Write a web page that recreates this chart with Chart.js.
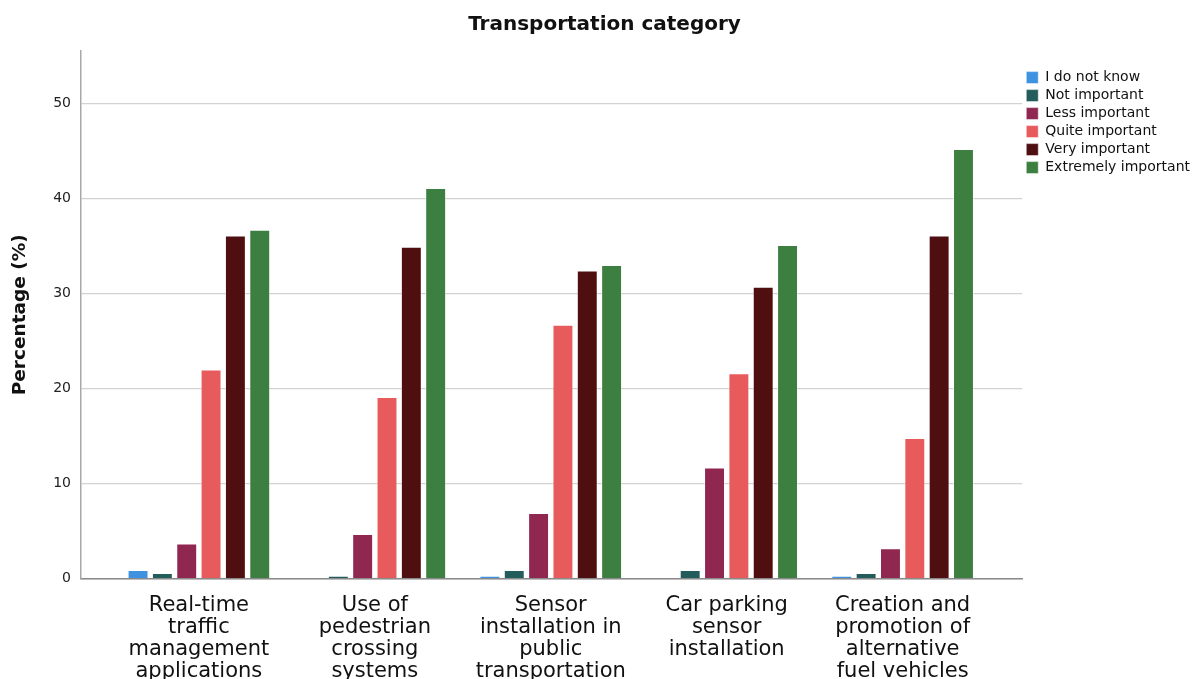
<!DOCTYPE html>
<html>
<head>
<meta charset="utf-8">
<script src="https://cdn.jsdelivr.net/npm/chart.js@4.4.1/dist/chart.umd.min.js"></script>
<style>
  html, body { margin: 0; padding: 0; background: #fff; overflow: hidden; }
  #wrap { width: 1203px; height: 702px; }
</style>
</head>
<body>
<div id="wrap"><canvas id="chart" width="1203" height="702"></canvas></div>
<script>
// categories (multi-line labels as in the picture)
const categories = [
    ["Real-time", "traffic", "management", "applications"],
    ["Use of", "pedestrian", "crossing", "systems"],
    ["Sensor", "installation in", "public", "transportation"],
    ["Car parking", "sensor", "installation"],
    ["Creation and", "promotion of", "alternative", "fuel vehicles"]
];

const seriesNames = ["I do not know", "Not important", "Less important", "Quite important", "Very important", "Extremely important"];
const seriesColors = ["#3f92e0", "#235c5b", "#8f2751", "#e85b5c", "#4f0e10", "#3d7f41"];

// percentages per category
const iDoNotKnow   = [0.9, 0.0, 0.3, 0.0, 0.3];
const notImportant = [0.6, 0.3, 0.9, 0.9, 0.6];
const lessImp      = [3.7, 4.7, 6.9, 11.7, 3.2];
const quiteImp     = [22.0, 19.1, 26.7, 21.6, 14.8];
const veryImp      = [36.1, 34.9, 32.4, 30.7, 36.1];
const extremelyImp = [36.7, 41.1, 33.0, 35.1, 45.2];

const yTicks = [0, 10, 20, 30, 40, 50];

const seriesValues = [iDoNotKnow, notImportant, lessImp, quiteImp, veryImp, extremelyImp];

const datasets = seriesNames.map((name, s) => ({
    label: name,
    data: seriesValues[s].map((v, i) => ({ x: i, y: v })),
    backgroundColor: seriesColors[s],
    borderColor: "rgba(255,255,255,0.5)",
    borderWidth: 1,
    categoryPercentage: 0.83,
    barPercentage: 0.86
}));

const font = "'DejaVu Sans', Verdana, sans-serif";

new Chart(document.getElementById("chart"), {
    type: "bar",
    data: { datasets },
    options: {
        responsive: false,
        animation: false,
        layout: { padding: { left: 9, right: 3, top: 5, bottom: 4 } },
        plugins: {
            title: {
                display: true,
                text: "Transportation category",
                color: "#111",
                font: { family: font, size: 20, weight: "bold" },
                padding: { top: 8, bottom: 14 }
            },
            legend: {
                position: "right",
                align: "start",
                title: {
                    display: true,
                    text: " ",
                    font: { family: font, size: 13 },
                    padding: { top: 42, bottom: 4 }
                },
                labels: {
                    boxWidth: 12,
                    boxHeight: 12,
                    padding: 4,
                    color: "#111",
                    font: { family: font, size: 14 }
                }
            },
            tooltip: { enabled: false }
        },
        scales: {
            x: {
                type: "linear",
                min: -0.67,
                max: 4.68,
                offset: false,
                grid: { display: false, drawTicks: false },
                border: { display: true, color: "#8a8a8a", width: 1.5 },
                afterBuildTicks: (scale) => {
                    scale.ticks = categories.map((c, i) => ({ value: i }));
                },
                ticks: {
                    autoSkip: false,
                    maxRotation: 0,
                    padding: 16,
                    color: "#111",
                    font: { family: font, size: 21, lineHeight: 1.04 },
                    callback: (v) => categories[v]
                }
            },
            y: {
                min: 0,
                max: 55.5,
                afterBuildTicks: (scale) => {
                    scale.ticks = yTicks.map(v => ({ value: v }));
                },
                grid: { color: "#d2d2d2", lineWidth: 1.2, drawTicks: false },
                border: { display: true, color: "#a8a8a8", width: 1.5 },
                ticks: {
                    padding: 10,
                    color: "#222",
                    font: { family: font, size: 14 }
                },
                title: {
                    display: true,
                    text: "Percentage (%)",
                    color: "#111",
                    font: { family: font, size: 18.5, weight: "bold" },
                    padding: { top: 0, bottom: 12 }
                }
            }
        }
    }
});
</script>
</body>
</html>
